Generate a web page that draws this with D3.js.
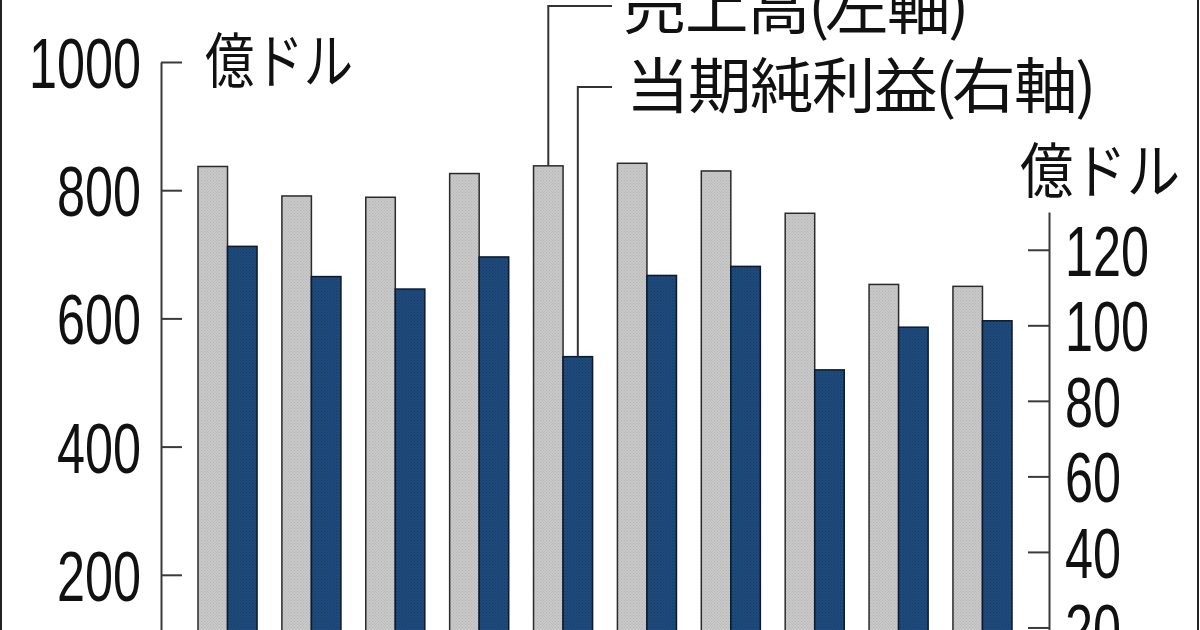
<!DOCTYPE html>
<html lang="ja">
<head>
    <meta charset="UTF-8">
    <title>売上高と当期純利益</title>
    <script src="https://d3js.org/d3.v7.min.js"></script>
    <style>
        html, body { margin: 0; padding: 0; background: #fff; overflow: hidden; }
        svg { display: block; }
        .num { font-family: "Liberation Sans", Arial, sans-serif; fill: #111; }
        .jp { font-family: "Noto Sans CJK JP", sans-serif; fill: #111; }
    </style>
</head>
<body>
    <div id="chart"></div>
    <script>
        // データ (億ドル)
        const periods = ['1', '2', '3', '4', '5', '6', '7', '8', '9', '10'];
        const sales = [837, 791, 789, 826, 838, 842, 830, 764, 653, 650];
        const profit = [120.9, 112.9, 109.6, 118.1, 91.7, 113.2, 115.6, 88.2, 99.5, 101.2];
        const leftTicks = [0, 200, 400, 600, 800, 1000];
        const rightTicks = [0, 20, 40, 60, 80, 100, 120];

        const width = 1200;
        const height = 630;

        const svg = d3.select('#chart')
            .append('svg')
            .attr('width', width)
            .attr('height', height);

        // 網点風のテクスチャ
        const defs = svg.append('defs');
        const makePattern = (id, base, dot) => {
            const p = defs.append('pattern')
                .attr('id', id)
                .attr('width', 3)
                .attr('height', 3)
                .attr('patternUnits', 'userSpaceOnUse');
            p.append('rect').attr('width', 3).attr('height', 3).attr('fill', base);
            p.append('rect').attr('x', 0).attr('y', 0).attr('width', 1).attr('height', 1).attr('fill', dot);
            p.append('rect').attr('x', 1.5).attr('y', 1.5).attr('width', 1).attr('height', 1).attr('fill', dot);
        };
        makePattern('grayTex', '#c9c9c9', '#b4b4b4');
        makePattern('navyTex', '#1f4b7c', '#163b64');

        const x = d3.scaleBand()
            .domain(periods)
            .range([198, 1012])
            .paddingInner(0.296)
            .paddingOuter(0);
        const bw = x.bandwidth() / 2;

        const yL = d3.scaleLinear().domain([0, 1000]).range([703, 62]);
        const yR = d3.scaleLinear().domain([0, 130]).range([703, 212]);

        // 売上高
        svg.selectAll('.sales')
            .data(sales)
            .enter()
            .append('rect')
            .attr('class', 'sales')
            .attr('x', (d, i) => x(periods[i]))
            .attr('y', d => yL(d))
            .attr('width', bw)
            .attr('height', d => yL(0) - yL(d))
            .attr('fill', 'url(#grayTex)')
            .attr('stroke', '#2a2a2a')
            .attr('stroke-width', 1.5);

        // 当期純利益
        svg.selectAll('.profit')
            .data(profit)
            .enter()
            .append('rect')
            .attr('class', 'profit')
            .attr('x', (d, i) => x(periods[i]) + bw)
            .attr('y', d => yR(d))
            .attr('width', bw)
            .attr('height', d => yR(0) - yR(d))
            .attr('fill', 'url(#navyTex)')
            .attr('stroke', '#0c1a2c')
            .attr('stroke-width', 1.5);

        // 左軸
        const leftAxis = svg.append('g')
            .attr('transform', 'translate(161,0)')
            .call(d3.axisLeft(yL)
                .tickValues(leftTicks)
                .tickFormat(d3.format('d'))
                .tickSizeInner(-21)
                .tickSizeOuter(0)
                .tickPadding(20));

        // 右軸
        const rightAxis = svg.append('g')
            .attr('transform', 'translate(1049,0)')
            .call(d3.axisRight(yR)
                .tickValues(rightTicks)
                .tickFormat(d3.format('d'))
                .tickSizeInner(-21)
                .tickSizeOuter(0)
                .tickPadding(16));

        [leftAxis, rightAxis].forEach(ax => {
            ax.select('.domain').attr('stroke', '#3a3a3a').attr('stroke-width', 2);
            ax.selectAll('.tick line').attr('stroke', '#3a3a3a').attr('stroke-width', 2);
            ax.selectAll('.tick text')
                .attr('class', 'num')
                .attr('font-family', null)
                .style('font-size', '71px')
                .attr('fill', '#111')
                .attr('dy', '0.36em')
                .attr('textLength', d => String(d).length * 28)
                .attr('lengthAdjust', 'spacingAndGlyphs');
        });
        leftAxis.selectAll('.tick text').attr('text-anchor', 'end');
        rightAxis.selectAll('.tick text').attr('text-anchor', 'start');

        // 単位
        svg.append('text')
            .attr('class', 'jp')
            .attr('x', 205)
            .attr('y', 83)
            .style('font-size', '60px')
            .attr('textLength', 148)
            .attr('lengthAdjust', 'spacingAndGlyphs')
            .text('億ドル');

        svg.append('text')
            .attr('class', 'jp')
            .attr('x', 1020)
            .attr('y', 193)
            .style('font-size', '60px')
            .attr('textLength', 160)
            .attr('lengthAdjust', 'spacingAndGlyphs')
            .text('億ドル');

        // 凡例と引き出し線
        const i5 = 4;
        const salesX = x(periods[i5]) + bw / 2;
        const profitX = x(periods[i5]) + bw * 1.5;

        svg.append('path')
            .attr('d', `M612,6H${salesX}V${yL(sales[i5])}`)
            .attr('fill', 'none')
            .attr('stroke', '#333')
            .attr('stroke-width', 2);
        svg.append('path')
            .attr('d', `M612,87H${profitX}V${yR(profit[i5])}`)
            .attr('fill', 'none')
            .attr('stroke', '#333')
            .attr('stroke-width', 2);

        // 文字ごとに送りを指定 (漢字は幅広、括弧は細い)
        const legendLabel = (x0, y0, str) => {
            const sx = 1.06;
            let pos = 0;
            const xs = [];
            for (const ch of str) {
                const isParen = ch === '(' || ch === ')';
                xs.push((pos + (isParen ? 0 : 1)) / sx);
                pos += isParen ? 16 : 62;
            }
            svg.append('text')
                .attr('class', 'jp')
                .attr('transform', `translate(${x0},${y0}) scale(${sx},1)`)
                .attr('x', xs.join(' '))
                .attr('y', 0)
                .style('font-size', '60px')
                .text(str);
        };
        legendLabel(622, 29, '売上高(左軸)');
        legendLabel(625, 108, '当期純利益(右軸)');

        // 枠
        svg.append('line')
            .attr('x1', 1).attr('x2', 1).attr('y1', 0).attr('y2', height)
            .attr('stroke', '#222').attr('stroke-width', 2);
        svg.append('line')
            .attr('x1', 1198).attr('x2', 1198).attr('y1', 0).attr('y2', height)
            .attr('stroke', '#222').attr('stroke-width', 2);
    </script>
</body>
</html>
